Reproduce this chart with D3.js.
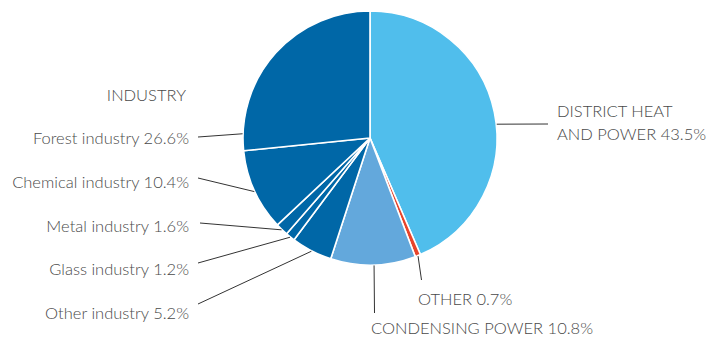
<!DOCTYPE html>
<html><head><meta charset="utf-8">
<script src="https://cdn.jsdelivr.net/npm/d3@7"></script>
<style>body{margin:0;background:#fff}svg{display:block}</style>
</head><body>
<svg id="c" width="714" height="339"></svg>
<script>
const categories = ["DISTRICT HEAT AND POWER","OTHER","CONDENSING POWER","Other industry","Glass industry","Metal industry","Chemical industry","Forest industry"];
const values = [43.5, 0.7, 10.8, 5.2, 1.2, 1.6, 10.4, 26.6];
const labelLines = [["DISTRICT HEAT","AND POWER 43.5%"],["OTHER 0.7%"],["CONDENSING POWER 10.8%"],["Other industry 5.2%"],["Glass industry 1.2%"],["Metal industry 1.6%"],["Chemical industry 10.4%"],["Forest industry 26.6%"]];
const colors = ["#50beec","#e8442b","#63a8dc","#0067a7","#0067a7","#0067a7","#0067a7","#0067a7"];
const groupTitle = "INDUSTRY";

// layout
const cx = 370, cy = 138, R = 127;
const leaderFrac = [0.535, 0.5, 0.49, 0.5, 0.5, 0.5, 0.49, 0.08];
const labelPos = [ // [lineEndX, lineEndY, textX, textY, anchor]
  [548, 124, 557, 117, "start"],
  [421.5, 280, 418, 305, "start"],
  [374.5, 313, 371, 334, "start"],
  [198, 304, 189, 319, "end"],
  [198, 263, 189, 275, "end"],
  [200, 223, 189, 232, "end"],
  [198, 178, 189, 188, "end"],
  [198, 137, 189, 144, "end"]
];

const svg = d3.select("#c");
const g = svg.append("g").attr("transform", `translate(${cx},${cy})`);
const pie = d3.pie().sort(null).value(d => d);
const arcs = pie(values);
const arc = d3.arc().innerRadius(0).outerRadius(R);

g.selectAll("path.slice").data(arcs).join("path")
  .attr("class","slice")
  .attr("d", arc)
  .attr("fill", (d,i) => colors[i])
  .attr("stroke", "#fff").attr("stroke-width", 1.6).attr("stroke-linejoin","round");

const font = "Lato, 'Open Sans', sans-serif";
arcs.forEach((d,i) => {
  const a = d.startAngle + leaderFrac[i]*(d.endAngle - d.startAngle);
  const x0 = cx + (R+0.5)*Math.sin(a), y0 = cy - (R+0.5)*Math.cos(a);
  const p = labelPos[i];
  svg.append("line").attr("x1", x0).attr("y1", y0).attr("x2", p[0]).attr("y2", p[1])
    .attr("stroke", "#333").attr("stroke-width", 1);
  const t = svg.append("text").attr("x", p[2]).attr("y", p[3])
    .attr("text-anchor", p[4]).attr("font-family", font).attr("font-weight", 300)
    .attr("font-size", 16.5).attr("fill", "#4a4a4a");
  labelLines[i].forEach((s,k) => t.append("tspan").attr("x", p[2]).attr("dy", k ? 23 : 0).text(s));
});
svg.append("text").attr("x", 186).attr("y", 101).attr("text-anchor","end")
  .attr("font-family", font).attr("font-weight", 300).attr("font-size", 16.5).attr("fill","#4a4a4a").text(groupTitle);
</script>
</body></html>
